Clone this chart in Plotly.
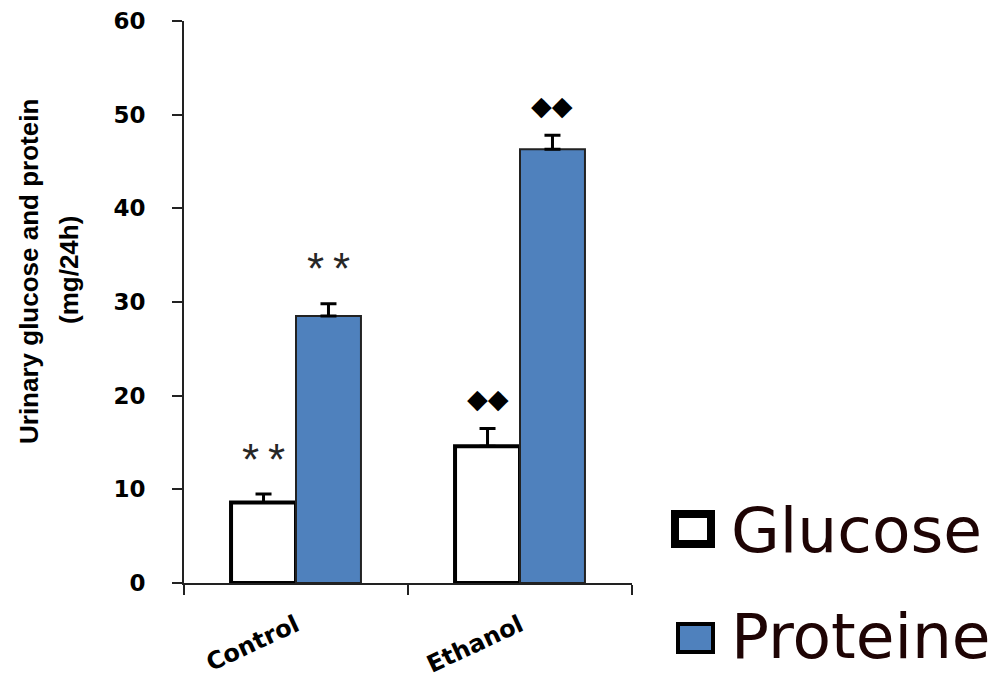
import plotly.graph_objects as go

# Data: urinary glucose and protein excretion (mg/24h), mean and SEM
groups = ["Control", "Ethanol"]
glucose = [8.6, 14.6]
glucose_err = [0.9, 1.9]
protein = [28.5, 46.3]
protein_err = [1.3, 1.5]
glucose_marks = ["**", "◆◆"]
protein_marks = ["**", "◆◆"]
y_ticks = [0, 10, 20, 30, 40, 50, 60]

BLUE = "#4F81BD"
W, H = 997, 681
M_L, M_R, M_T, M_B = 184, 365, 21, 98
BARGAP = 0.42

plot_w = W - M_L - M_R
plot_h = H - M_T - M_B


def px_x(x):
    return (x - M_L) / plot_w


def px_y(y):
    return (H - M_B - y) / plot_h


fig = go.Figure()
fig.add_trace(go.Bar(
    name="Glucose", x=groups, y=glucose,
    marker=dict(color="white", line=dict(color="black", width=4)),
    error_y=dict(type="data", array=glucose_err, symmetric=False,
                 arrayminus=[0] * len(glucose_err),
                 color="black", thickness=3, width=8),
))
fig.add_trace(go.Bar(
    name="Proteine", x=groups, y=protein,
    marker=dict(color=BLUE, line=dict(color="#222222", width=2)),
    error_y=dict(type="data", array=protein_err, symmetric=False,
                 arrayminus=[0] * len(protein_err),
                 color="black", thickness=3, width=8),
))

# significance marks above each bar
cat_px = plot_w / len(groups)
bar_px = cat_px * (1 - BARGAP) / 2
annotations = []
for values, errs, marks, shift in [
    (glucose, glucose_err, glucose_marks, -bar_px / 2),
    (protein, protein_err, protein_marks, bar_px / 2),
]:
    for g, v, e, m in zip(groups, values, errs, marks):
        star = m == "**"
        annotations.append(dict(
            x=g, y=v + e, xref="x", yref="y", xshift=shift,
            yshift=35 if star else 30, yanchor="middle", xanchor="center",
            text="*\u2009*" if star else m, showarrow=False,
            font=dict(family="Liberation Sans" if star else "DejaVu Sans",
                      size=44 if star else 27,
                      color="#262626" if star else "black"),
        ))

# y-axis title
title_font = dict(family="Liberation Sans", size=26, color="black")
annotations.append(dict(
    x=px_x(29), y=px_y(272), xref="paper", yref="paper",
    text="<b>Urinary glucose and protein</b>", textangle=-90, showarrow=False,
    font=title_font, xanchor="center", yanchor="middle"))
annotations.append(dict(
    x=px_x(69), y=px_y(270), xref="paper", yref="paper",
    text="<b>(mg/24h)</b>", textangle=-90, showarrow=False,
    font=title_font, xanchor="center", yanchor="middle"))

# legend drawn on the right
legend_font = dict(family="DejaVu Sans", size=63, color="#1e0404")
annotations.append(dict(
    x=px_x(729), y=px_y(530), xref="paper", yref="paper", text="Glucose",
    showarrow=False, xanchor="left", yanchor="middle", font=legend_font))
annotations.append(dict(
    x=px_x(729), y=px_y(636), xref="paper", yref="paper", text="Proteine",
    showarrow=False, xanchor="left", yanchor="middle", font=legend_font))

shapes = [
    dict(type="rect", xref="paper", yref="paper",
         x0=px_x(675), x1=px_x(711), y0=px_y(514), y1=px_y(544),
         fillcolor="white", line=dict(color="black", width=8)),
    dict(type="rect", xref="paper", yref="paper",
         x0=px_x(678), x1=px_x(713), y0=px_y(624), y1=px_y(652),
         fillcolor=BLUE, line=dict(color="black", width=4)),
]

fig.update_layout(
    width=W, height=H,
    margin=dict(l=M_L, r=M_R, t=M_T, b=M_B, pad=0, autoexpand=False),
    paper_bgcolor="white", plot_bgcolor="white",
    barmode="group", bargap=BARGAP, bargroupgap=0,
    showlegend=False,
    annotations=annotations, shapes=shapes,
    xaxis=dict(
        automargin=False,
        showline=True, linecolor="#222222", linewidth=2,
        ticks="outside", tickson="boundaries", ticklen=10, tickwidth=2,
        tickcolor="#222222", tickangle=-25, ticklabelstandoff=17,
        tickfont=dict(family="DejaVu Sans", size=24, color="black",
                      weight="bold"),
        showgrid=False, zeroline=False,
    ),
    yaxis=dict(
        automargin=False,
        range=[0, 60], tickvals=y_ticks,
        showline=True, linecolor="#222222", linewidth=2,
        ticks="outside", ticklen=10, tickwidth=2, tickcolor="#222222",
        ticklabelstandoff=22,
        tickfont=dict(family="DejaVu Sans", size=23, color="black",
                      weight="bold"),
        showgrid=False, zeroline=False,
    ),
)

fig.write_html("out.html")
